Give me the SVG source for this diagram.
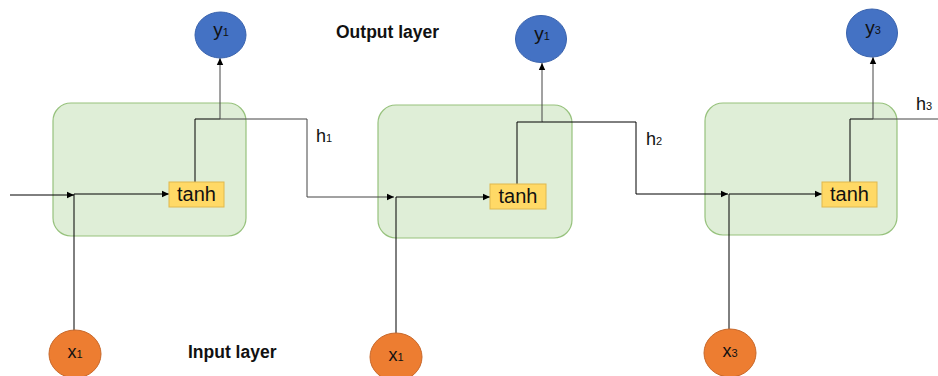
<svg xmlns="http://www.w3.org/2000/svg" width="938" height="376" viewBox="0 0 938 376">
<style>
.cell{fill:#dfeed7;stroke:#97c27d;stroke-width:1.2}
.act{fill:#ffd966;stroke:#e0b84e;stroke-width:1}
.yc{fill:#4472c4;stroke:#3a63ad;stroke-width:1}
.xc{fill:#ed7d31;stroke:#c8682a;stroke-width:1}
.t{font-family:"Liberation Sans",Arial,sans-serif;fill:#111}
.lbl{font-family:"Liberation Sans",Arial,sans-serif;font-weight:bold;font-size:17.5px;fill:#111}
.ln{fill:none;stroke:#000;stroke-width:1}
.lg{fill:none;stroke:#444;stroke-width:1}
</style>
<defs>
<marker id="ah" markerUnits="userSpaceOnUse" markerWidth="8" markerHeight="8" viewBox="0 0 8 8" refX="7" refY="4" orient="auto">
<path d="M0,0.8 L7,4 L0,7.2 Z" fill="#000"/>
</marker>
</defs>

<g id="cell1"><rect class="cell" x="53" y="103" width="193" height="133" rx="18"/></g>
<g id="cell2"><rect class="cell" x="378" y="105" width="194" height="133" rx="18"/></g>
<g id="cell3"><rect class="cell" x="705" y="103" width="192" height="132" rx="18"/></g>

<g id="connectors">
<path class="ln" d="M10 195 H74" marker-end="url(#ah)"/>
<path class="ln" d="M74 331 V194 H169" marker-end="url(#ah)"/>
<path class="ln" d="M195 182 V119 H220"/>
<path class="lg" d="M220 119 V58" marker-end="url(#ah)"/>
<path class="lg" d="M220 119 H307 V197 H394" marker-end="url(#ah)"/>
<path class="ln" d="M396 333 V197 H490" marker-end="url(#ah)"/>
<path class="ln" d="M517 184 V122 H542"/>
<path class="lg" d="M542 122 V63" marker-end="url(#ah)"/>
<path class="ln" d="M542 122 H636 V194 H728" marker-end="url(#ah)"/>
<path class="ln" d="M729 329 V194 H822" marker-end="url(#ah)"/>
<path class="ln" d="M850 182 V119 H873"/>
<path class="lg" d="M873 119 V57" marker-end="url(#ah)"/>
<path class="lg" d="M873 119 H938"/>
</g>

<g id="tanh1"><rect class="act" x="169" y="182" width="55" height="25"/><text class="t" x="196.5" y="201" font-size="20" text-anchor="middle">tanh</text></g>
<g id="tanh2"><rect class="act" x="490" y="184" width="56" height="25"/><text class="t" x="518" y="203" font-size="20" text-anchor="middle">tanh</text></g>
<g id="tanh3"><rect class="act" x="822" y="182" width="55" height="25"/><text class="t" x="849.5" y="201" font-size="20" text-anchor="middle">tanh</text></g>

<g id="y1a"><ellipse class="yc" cx="220.5" cy="35" rx="25.5" ry="23"/><text class="t" x="221" y="36" font-size="19" text-anchor="middle">y<tspan font-size="11">1</tspan></text></g>
<g id="y1b"><ellipse class="yc" cx="541" cy="39" rx="25.5" ry="23.5"/><text class="t" x="542" y="40" font-size="19" text-anchor="middle">y<tspan font-size="11">1</tspan></text></g>
<g id="y3"><ellipse class="yc" cx="872" cy="33" rx="25.5" ry="24"/><text class="t" x="873" y="34" font-size="19" text-anchor="middle">y<tspan font-size="11">3</tspan></text></g>

<g id="x1a"><ellipse class="xc" cx="75" cy="354" rx="26" ry="24"/><text class="t" x="75" y="358" font-size="18" text-anchor="middle">x<tspan font-size="11">1</tspan></text></g>
<g id="x1b"><ellipse class="xc" cx="396" cy="357" rx="26" ry="24"/><text class="t" x="396" y="361" font-size="18" text-anchor="middle">x<tspan font-size="11">1</tspan></text></g>
<g id="x3"><ellipse class="xc" cx="730" cy="353" rx="26" ry="24"/><text class="t" x="730" y="357" font-size="18" text-anchor="middle">x<tspan font-size="11">3</tspan></text></g>

<g id="labels">
<text class="t" x="316" y="142" font-size="18">h<tspan font-size="11">1</tspan></text>
<text class="t" x="646" y="145" font-size="18">h<tspan font-size="11">2</tspan></text>
<text class="t" x="916" y="110" font-size="18">h<tspan font-size="11">3</tspan></text>
<text class="lbl" x="336" y="38">Output layer</text>
<text class="lbl" x="188" y="358">Input layer</text>
</g>
</svg>
